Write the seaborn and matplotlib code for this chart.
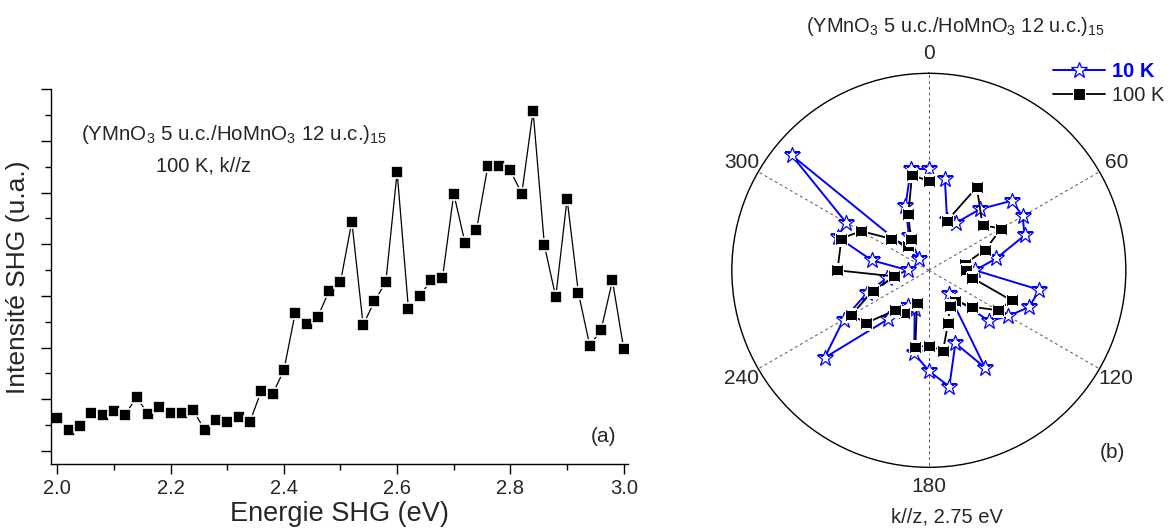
import numpy as np
import pandas as pd
import matplotlib
matplotlib.use("Agg")
import matplotlib.pyplot as plt
import seaborn as sns

# --- panel (a): SHG spectrum, 100 K ---
energy = [2.00, 2.02, 2.04, 2.06, 2.08, 2.10, 2.12, 2.14, 2.16, 2.18,
          2.20, 2.22, 2.24, 2.26, 2.28, 2.30, 2.32, 2.34, 2.36, 2.38,
          2.40, 2.42, 2.44, 2.46, 2.48, 2.50, 2.52, 2.54, 2.56, 2.58,
          2.60, 2.62, 2.64, 2.66, 2.68, 2.70, 2.72, 2.74, 2.76, 2.78,
          2.80, 2.82, 2.84, 2.86, 2.88, 2.90, 2.92, 2.94, 2.96, 2.98, 3.00]
intensity = [1.64, 1.41, 1.49, 1.74, 1.69, 1.77, 1.70, 2.05, 1.71, 1.86,
             1.74, 1.73, 1.79, 1.41, 1.60, 1.56, 1.65, 1.56, 2.16, 2.10,
             2.56, 3.67, 3.46, 3.60, 4.10, 4.27, 5.44, 3.44, 3.90, 4.27,
             6.40, 3.74, 4.00, 4.31, 4.35, 5.98, 5.02, 5.27, 6.51, 6.51,
             6.43, 5.98, 7.58, 4.98, 3.98, 5.88, 4.06, 3.04, 3.34, 4.30, 2.98]

# --- panel (b): polar SHG at 2.75 eV ---
angle_10k = [10, 20, 30, 40, 50, 60, 70, 80, 90, 100, 110, 120,
             130, 140, 150, 160, 170, 180, 190, 200, 210, 220, 230, 240,
             250, 260, 270, 280, 290, 300, 310, 320, 330, 340, 350, 360]
r_10k = [0.469, 0.271, 0.280, 0.406, 0.549, 0.550, 0.517, 0.347, 0.235, 0.569, 0.543, 0.465,
         0.401, 0.159, 0.571, 0.394, 0.599, 0.511, 0.428, 0.210, 0.211, 0.325, 0.691, 0.500,
         0.333, 0.214, 0.104, 0.294, 0.493, 0.485, 0.910, 0.075, 0.201, 0.347, 0.524, 0.513]

angle_100k = [20, 30, 50, 60, 70, 80, 90, 100, 110, 120, 130, 140,
              150, 160, 170, 180, 190, 200, 210, 220, 230, 240, 250, 260,
              270, 290, 300, 310, 320, 330, 340, 350, 360]
r_100k = [0.266, 0.487, 0.356, 0.424, 0.305, 0.184, 0.187, 0.224, 0.447, 0.406, 0.288, 0.203,
          0.212, 0.286, 0.414, 0.384, 0.394, 0.176, 0.249, 0.264, 0.416, 0.455, 0.302, 0.178,
          0.464, 0.472, 0.398, 0.249, 0.162, 0.184, 0.304, 0.491, 0.453]

sns.set_theme(style="ticks")
plt.rcParams["font.family"] = ["Liberation Sans", "DejaVu Sans"]
plt.rcParams["mathtext.fontset"] = "custom"
plt.rcParams["mathtext.rm"] = "Liberation Sans"
plt.rcParams["mathtext.it"] = "Liberation Sans:italic"
plt.rcParams["mathtext.bf"] = "Liberation Sans:bold"

title_txt = r"(YMnO$_\mathregular{3}$ 5 u.c./HoMnO$_\mathregular{3}$ 12 u.c.)$_\mathregular{15}$"

fig = plt.figure(figsize=(11.73, 5.32), dpi=100)
ax1 = fig.add_axes([0.0435, 0.1273, 0.4921, 0.7048])
ax2 = fig.add_axes([0.6239, 0.1216, 0.3359, 0.7406], projection="polar")

# panel (a)
spec = pd.DataFrame({"energy": energy, "intensity": intensity})
sns.lineplot(data=spec, x="energy", y="intensity", ax=ax1, color="black",
             linewidth=0.9, marker="s", markersize=8.5, markerfacecolor="black",
             markeredgecolor="white", markeredgewidth=1.2, sort=False)
ax1.set_xlim(1.989, 3.008)
ax1.set_ylim(0.743, 8.0)
ax1.set_xticks(np.arange(2.0, 3.01, 0.2))
ax1.set_xticks(np.arange(2.1, 3.0, 0.2), minor=True)
ax1.set_yticks(np.arange(1, 9, 1))
ax1.set_yticks(np.arange(1.5, 8, 1), minor=True)
ax1.set_xticklabels(["2.0", "2.2", "2.4", "2.6", "2.8", "3.0"])
ax1.tick_params(axis="both", which="major", length=7, width=1, color="black",
                labelsize=14.5, direction="out")
ax1.tick_params(axis="both", which="minor", length=4, width=1, color="black", direction="out")
ax1.tick_params(axis="y", labelleft=False)
sns.despine(ax=ax1)
for s in ["left", "bottom"]:
    ax1.spines[s].set_color("black")
    ax1.spines[s].set_linewidth(1.0)
ax1.set_xlabel("Energie SHG (eV)", fontsize=19.5, labelpad=2)
ax1.set_ylabel("Intensité SHG (u.a.)", fontsize=19, labelpad=8)

fig.text(81 / 1173, 1 - 140 / 532, title_txt, fontsize=14.8, ha="left", va="baseline")
fig.text(203 / 1173, 1 - 172 / 532, "100 K, k//z", fontsize=14.5, ha="center", va="baseline")
fig.text(603 / 1173, 1 - 437 / 532, "(a)", fontsize=15, ha="center", va="center")

# panel (b)
pol10 = pd.DataFrame({"theta": np.deg2rad(angle_10k), "r": r_10k})
pol100 = pd.DataFrame({"theta": np.deg2rad(angle_100k), "r": r_100k})
sns.lineplot(data=pol10, x="theta", y="r", ax=ax2, color="blue", linewidth=1.4,
             marker="*", markersize=12, markerfacecolor="white",
             markeredgecolor="blue", markeredgewidth=0.9, sort=False, label="10 K",
             legend=False)
sns.lineplot(data=pol100, x="theta", y="r", ax=ax2, color="black", linewidth=1.3,
             marker="s", markersize=8, markerfacecolor="black",
             markeredgecolor="white", markeredgewidth=0.8, sort=False, label="100 K",
             legend=False)
ax2.set_theta_zero_location("N")
ax2.set_theta_direction(-1)
ax2.set_ylim(0, 1)
ax2.set_yticks([])
ax2.set_xticks(np.deg2rad(np.arange(0, 360, 60)))
ax2.set_xticklabels(["0", "60", "120", "180", "240", "300"])
ax2.set_xticks(np.deg2rad(np.arange(30, 360, 60)), minor=True)
ax2.xaxis.grid(True, which="major", linestyle=(0, (3, 3)), color="#555555", linewidth=0.7)
ax2.tick_params(axis="x", which="major", labelsize=15, pad=7, length=0)
ax2.tick_params(axis="x", which="minor", length=5, width=1, direction="in", color="black")
ax2.spines["polar"].set_color("black")
ax2.spines["polar"].set_linewidth(1.0)
ax2.set_xlabel("")
ax2.set_ylabel("")
ax2.set_facecolor("white")

fig.text(955 / 1173, 1 - 32 / 532, title_txt, fontsize=14.4, ha="center", va="baseline")
fig.text(947 / 1173, 1 - 517 / 532, "k//z, 2.75 eV", fontsize=14.5, ha="center", va="center")
fig.text(1112 / 1173, 1 - 452 / 532, "(b)", fontsize=15, ha="center", va="center")

handles, labels = ax2.get_legend_handles_labels()
leg = fig.legend(handles, labels, loc="upper left", bbox_to_anchor=(1053 / 1173, 1 - 62 / 532),
                 frameon=False, fontsize=14.5, handlelength=2.6, handletextpad=0.35,
                 labelspacing=0.25, borderpad=0, borderaxespad=0)
leg.get_texts()[0].set_color("blue")
leg.get_texts()[0].set_fontweight("bold")

fig.savefig("out.png", dpi=100)
